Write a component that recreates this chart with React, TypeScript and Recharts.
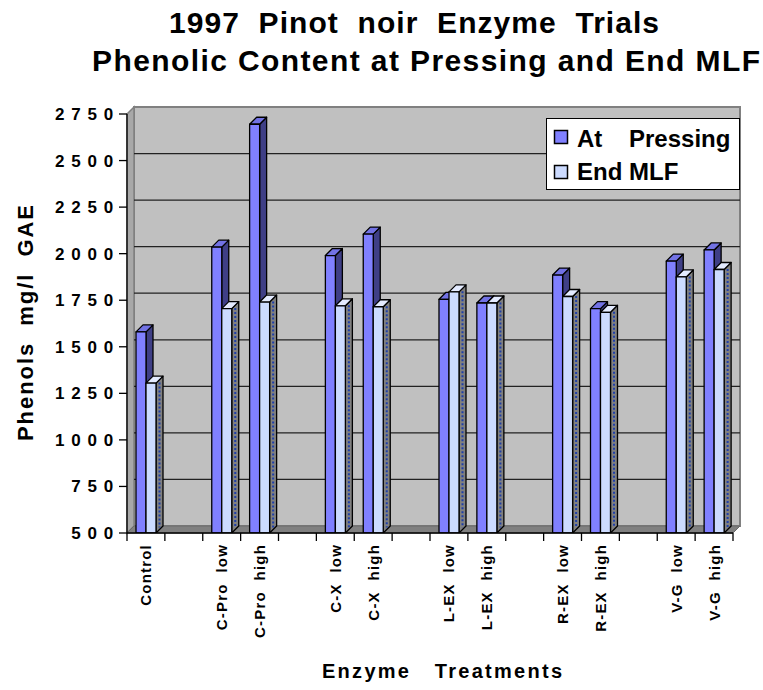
import React from 'react';
import { BarChart, Bar, XAxis, YAxis, CartesianGrid } from 'recharts';

// blank entries are the spacer columns between enzyme groups
const categories = [
  'Control', '', 'C-Pro  low', 'C-Pro  high', '', 'C-X  low', 'C-X  high', '',
  'L-EX  low', 'L-EX  high', '', 'R-EX  low', 'R-EX  high', '', 'V-G  low', 'V-G  high',
];
const atPressing = [1580, null, 2035, 2695, null, 1990, 2105, null, 1755, 1735, null, 1885, 1705, null, 1960, 2020];
const endMLF = [1305, null, 1705, 1740, null, 1720, 1715, null, 1795, 1735, null, 1770, 1685, null, 1875, 1915];
const yTicks = [500, 750, 1000, 1250, 1500, 1750, 2000, 2250, 2500, 2750];

const data = categories.map((name, i) => ({ name, at: atPressing[i], end: endMLF[i] }));

const FONT = 'Arial, "Liberation Sans", sans-serif';
const D = 7; // depth of the 3d effect

const AP = { front: '#8080ff', top: '#7272e4', side: '#3f3f86' };
const EM = { front: '#ccdbff', top: '#e4ebff', side: '#808080' };

function Bar3D(props: any) {
  const { x, y, width, height, colors, dotted } = props;
  if (height == null || isNaN(height) || height <= 0) return null;
  const r = x + width;
  const b = y + height;
  return (
    <g stroke="#000" strokeWidth={1.3} strokeLinejoin="round">
      <polygon points={`${r},${y} ${r + D},${y - D} ${r + D},${b - D} ${r},${b}`} fill={colors.side} />
      {dotted && (
        <line x1={r + D / 2} x2={r + D / 2} y1={y - D / 2 + 3} y2={b - D / 2 - 2} stroke="#1f3fa8" strokeWidth={2} strokeDasharray="2 2" />
      )}
      <polygon points={`${x},${y} ${x + D},${y - D} ${r + D},${y - D} ${r},${y}`} fill={colors.top} />
      <rect x={x} y={y} width={width} height={height} fill={colors.front} />
    </g>
  );
}

function gridLine(p: any) {
  const x = p.x ?? p.x1;
  const width = p.width ?? p.x2 - p.x1;
  const y = p.y ?? 114;
  const height = p.height ?? 419;
  const y1 = p.y1;
  const inside = y1 > y + 0.5 && y1 < y + height - 0.5;
  const line = inside ? (
    <line x1={x + D} x2={x + width + D} y1={y1 - D} y2={y1 - D} stroke="#222" strokeWidth={1.3} />
  ) : null;
  if (p.index !== 0) return <g key={p.key}>{line}</g>;
  const bot = y + height;
  return (
    <g key={p.key}>
      {/* back wall */}
      <rect x={x + D} y={y - D} width={width} height={height} fill="#c0c0c0" stroke="#808080" strokeWidth={2} />
      {/* left wall */}
      <polygon points={`${x},${y} ${x + D},${y - D} ${x + D},${bot - D} ${x},${bot}`} fill="#a8a8a8" stroke="#808080" strokeWidth={1.5} />
      {/* floor */}
      <polygon points={`${x},${bot} ${x + D},${bot - D} ${x + width + D},${bot - D} ${x + width},${bot}`} fill="#808080" stroke="#6a6a6a" strokeWidth={1} />
      {line}
    </g>
  );
}

function XTick(props: any) {
  const { x, y, payload, index } = props;
  const half = payload?.offset ?? 19;
  const top = y - 10;
  return (
    <g>
      <line x1={x - half} x2={x - half} y1={top} y2={top + 8} stroke="#000" strokeWidth={1.3} />
      {index === categories.length - 1 && (
        <line x1={x + half} x2={x + half} y1={top} y2={top + 8} stroke="#000" strokeWidth={1.3} />
      )}
      {payload.value ? (
        <text
          transform={`translate(${x + 5.5},${y + 1}) rotate(-90)`}
          textAnchor="end"
          fontFamily={FONT}
          fontWeight="bold"
          fontSize={15}
          letterSpacing={1.2}
          fill="#000"
          xmlSpace="preserve"
        >
          {payload.value}
        </text>
      ) : null}
    </g>
  );
}

function YTick(props: any) {
  const { x, y, payload } = props;
  return (
    <text x={x + 3} y={y} dy={6} textAnchor="end" fontFamily={FONT} fontWeight="bold" fontSize={17} letterSpacing={6.8} fill="#000">
      {payload.value}
    </text>
  );
}

export default function App() {
  return (
    <div style={{ position: 'absolute', left: 0, top: 0, width: 763, height: 690, background: '#fff' }}>
      <BarChart width={763} height={690} data={data} margin={{ top: 114, right: 30, bottom: 57, left: 0 }} barGap={0} barSize={10}>
        <CartesianGrid vertical={false} horizontal={gridLine} />
        <XAxis dataKey="name" interval={0} height={100} tickSize={8} tickMargin={2} tickLine={false} axisLine={{ stroke: '#000', strokeWidth: 1.3 }} tick={<XTick />} />
        <YAxis
          width={127}
          domain={[500, 2750]}
          ticks={yTicks}
          interval={0}
          tickSize={8}
          tickMargin={2}
          tickLine={{ stroke: '#000', strokeWidth: 1.3 }}
          axisLine={{ stroke: '#000', strokeWidth: 1.3 }}
          tick={<YTick />}
          allowDataOverflow
        />
        <Bar dataKey="at" isAnimationActive={false} shape={(p: any) => <Bar3D {...p} colors={AP} />} />
        <Bar dataKey="end" isAnimationActive={false} shape={(p: any) => <Bar3D {...p} colors={EM} dotted />} />
      </BarChart>

      <svg width={763} height={690} style={{ position: 'absolute', left: 0, top: 0, pointerEvents: 'none' }}>
        <g fontFamily={FONT} fontWeight="bold" fill="#000">
          <text x={169} y={33} fontSize={30} textLength={490} lengthAdjust="spacing" xmlSpace="preserve">1997  Pinot  noir  Enzyme  Trials</text>
          <text x={92} y={71} fontSize={30} textLength={668} lengthAdjust="spacing" xmlSpace="preserve">Phenolic Content at Pressing and End MLF</text>
          <text transform="translate(33,323) rotate(-90)" textAnchor="middle" fontSize={22} textLength={236} lengthAdjust="spacing" xmlSpace="preserve">Phenols  mg/l  GAE</text>
          <text x={442} y={678} textAnchor="middle" fontSize={20} textLength={240} lengthAdjust="spacing" xmlSpace="preserve">Enzyme   Treatments</text>
        </g>
        {/* legend */}
        <rect x={546.5} y={118.5} width={193} height={71} fill="#fff" stroke="#000" strokeWidth={1} />
        <rect x={554.5} y={130.5} width={13} height={13} fill={AP.front} stroke="#000" strokeWidth={1.5} />
        <rect x={554.5} y={165.5} width={13} height={13} fill={EM.front} stroke="#000" strokeWidth={1.5} />
        <g fontFamily={FONT} fontWeight="bold" fontSize={24} fill="#000">
          <text x={577} y={147} xmlSpace="preserve">At    Pressing</text>
          <text x={577} y={180} xmlSpace="preserve">End MLF</text>
        </g>
      </svg>
    </div>
  );
}
